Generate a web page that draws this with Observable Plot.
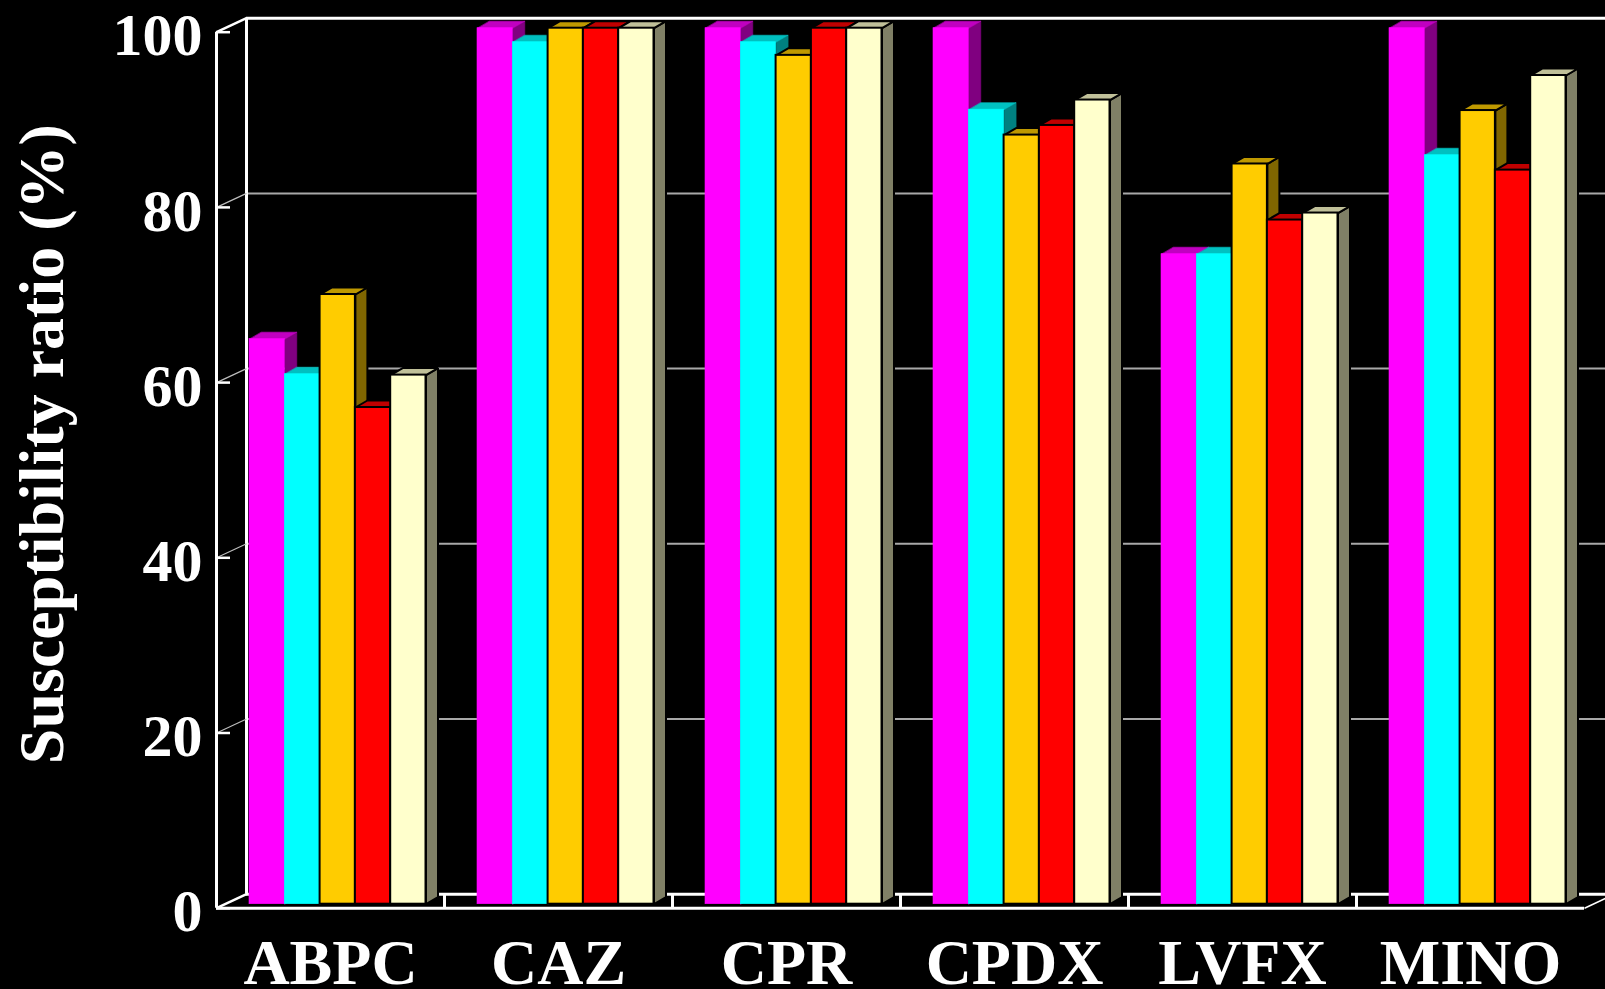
<!DOCTYPE html>
<html>
<head>
<meta charset="utf-8">
<script src="https://cdn.jsdelivr.net/npm/d3@7"></script>
<script src="https://cdn.jsdelivr.net/npm/@observablehq/plot@0.6"></script>
<style>
  html, body { margin: 0; padding: 0; background: #000; overflow: hidden; }
  #chart svg { display: block; }
</style>
</head>
<body>
<div id="chart"></div>
<script>
// ---- data ----
const drugs = ["ABPC", "CAZ", "CPR", "CPDX", "LVFX", "MINO"];
const seriesNames = ["Group 1", "Group 2", "Group 3", "Group 4", "Group 5"];
const group1Values = [64.5, 100, 100, 100, 74.2, 100];
const group2Values = [60.5, 98.4, 98.4, 90.7, 74.2, 85.5];
const group3Values = [69.6, 100, 96.9, 87.8, 84.5, 90.6];
const group4Values = [56.7, 100, 100, 88.9, 78.1, 83.8];
const group5Values = [60.4, 100, 100, 91.8, 78.9, 94.6];
const yTicks = [0, 20, 40, 60, 80, 100];
const yAxisLabel = "Susceptibility ratio (%)";

const seriesValues = [group1Values, group2Values, group3Values, group4Values, group5Values];
const frontColors = ["#ff00ff", "#00ffff", "#ffcc00", "#ff0000", "#ffffcc"];
const topColors   = ["#c000c0", "#00c0c0", "#bf9900", "#c00000", "#c0c099"];
const sideColors  = ["#800080", "#008080", "#806600", "#800000", "#808066"];
const outlined    = [false, false, true, true, true];

// ---- layout ----
const W = 1605, H = 989;
const mL = 216, mR = 21, mT = 31.7, mB = 81.3;
const xUnit = drugs.length / (W - mL - mR);   // data units per px (x)
const yUnit = 100 / (H - mT - mB);            // data units per px (y)
const wallDX = 30, wallDY = -14;              // depth of the chart box (px)
const wx = wallDX * xUnit, wy = -wallDY * yUnit;
const barDX = 9, barDY = -4;                  // bars sit a little behind the front plane
const depthX = 12 * xUnit, depthY = 7 * yUnit; // bar depth
const inner = d3.scaleBand(seriesNames, [24 * xUnit, (24 + 5 * 35.3) * xUnit]);

const rows = drugs.flatMap((drug, i) => seriesNames.map((s, k) => ({
  drug, series: s, k, value: seriesValues[k][i],
  x1: i + inner(s), x2: i + inner(s) + inner.bandwidth()
})));

const sidePts = rows.flatMap((r, id) => [
  {id, k: r.k, x: r.x2, y: 0},
  {id, k: r.k, x: r.x2 + depthX, y: depthY},
  {id, k: r.k, x: r.x2 + depthX, y: r.value + depthY},
  {id, k: r.k, x: r.x2, y: r.value}
]);
const topPts = rows.flatMap((r, id) => [
  {id, k: r.k, x: r.x1, y: r.value},
  {id, k: r.k, x: r.x2, y: r.value},
  {id, k: r.k, x: r.x2 + depthX, y: r.value + depthY},
  {id, k: r.k, x: r.x1 + depthX, y: r.value + depthY}
]);

const strokeOf = (k, c) => outlined[k] ? "black" : c;
const swOf = (k) => outlined[k] ? 2 : 0.6;

const sideMarks = seriesNames.map((s, k) => Plot.line(sidePts.filter(p => p.k === k), {
  x: "x", y: "y", z: "id", curve: "linear-closed",
  fill: sideColors[k], stroke: strokeOf(k, sideColors[k]), strokeWidth: swOf(k),
  strokeLinejoin: "miter", dx: barDX, dy: barDY
}));
const topMarks = seriesNames.map((s, k) => Plot.line(topPts.filter(p => p.k === k), {
  x: "x", y: "y", z: "id", curve: "linear-closed",
  fill: topColors[k], stroke: strokeOf(k, topColors[k]), strokeWidth: swOf(k),
  strokeLinejoin: "miter", dx: barDX, dy: barDY
}));
const frontMarks = seriesNames.map((s, k) => Plot.rect(rows.filter(r => r.k === k), {
  x1: "x1", x2: "x2", y1: 0, y2: "value",
  fill: frontColors[k], stroke: strokeOf(k, frontColors[k]), strokeWidth: swOf(k),
  dx: barDX, dy: barDY
}));

const gridTicks = yTicks.filter(t => t > 0 && t < 100);

const chart = Plot.plot({
  width: W, height: H,
  marginLeft: mL, marginRight: mR, marginTop: mT, marginBottom: mB,
  x: {domain: [0, drugs.length], axis: null},
  y: {domain: [0, 100], axis: null, label: null},
  style: {
    background: "black", color: "white",
    fontFamily: "'Liberation Serif', 'Times New Roman', serif",
    fontWeight: "bold"
  },
  marks: [
    // back wall
    Plot.ruleY(gridTicks, {dx: wallDX, dy: wallDY, stroke: "#a8a8a8", strokeWidth: 2}),
    Plot.ruleY([100], {dx: wallDX, dy: wallDY, stroke: "white", strokeWidth: 3}),
    Plot.ruleY([0], {dx: wallDX, dy: wallDY, stroke: "white", strokeWidth: 3}),
    Plot.ruleX([0], {y1: 0, y2: 100, dx: wallDX, dy: wallDY, stroke: "white", strokeWidth: 3}),
    // side wall diagonals
    Plot.link(gridTicks, {x1: 0, y1: d => d, x2: wx, y2: d => d + wy, stroke: "#bdbdbd", strokeWidth: 1.2}),
    Plot.link([0, 100], {x1: 0, y1: d => d, x2: wx, y2: d => d + wy, stroke: "white", strokeWidth: 2.5}),
    // front axis
    Plot.ruleY(yTicks, {x1: 0, x2: 14 * xUnit, stroke: "white", strokeWidth: 2.5}),
    Plot.ruleX([0], {y1: 0, y2: 100, stroke: "white", strokeWidth: 3}),
    // floor
    Plot.ruleY([0], {stroke: "white", strokeWidth: 3}),
    Plot.ruleX(d3.range(1, drugs.length), {y1: 0, y2: wy, stroke: "white", strokeWidth: 3}),
    Plot.link([drugs.length], {x1: d => d, y1: 0, x2: d => d + wx, y2: wy, stroke: "white", strokeWidth: 1.5}),
    // bars
    ...sideMarks,
    ...topMarks,
    ...frontMarks,
    // axes
    Plot.axisY(yTicks, {tickSize: 0, tickPadding: 14, fontSize: 60, fontWeight: "bold", dy: 4, label: null}),
    Plot.axisX(drugs.map((d, i) => i + 0.5), {
      tickFormat: v => drugs[Math.floor(v)], tickSize: 0, tickPadding: 30,
      fontSize: 64, fontWeight: "bold", label: null
    }),
    Plot.text([yAxisLabel], {
      text: d => d, frameAnchor: "left", textAnchor: "middle", rotate: -90, dx: -173.5, dy: -26,
      fontSize: 64, fontWeight: "bold", fill: "white"
    })
  ]
});
document.getElementById("chart").appendChild(chart);
</script>
</body>
</html>
